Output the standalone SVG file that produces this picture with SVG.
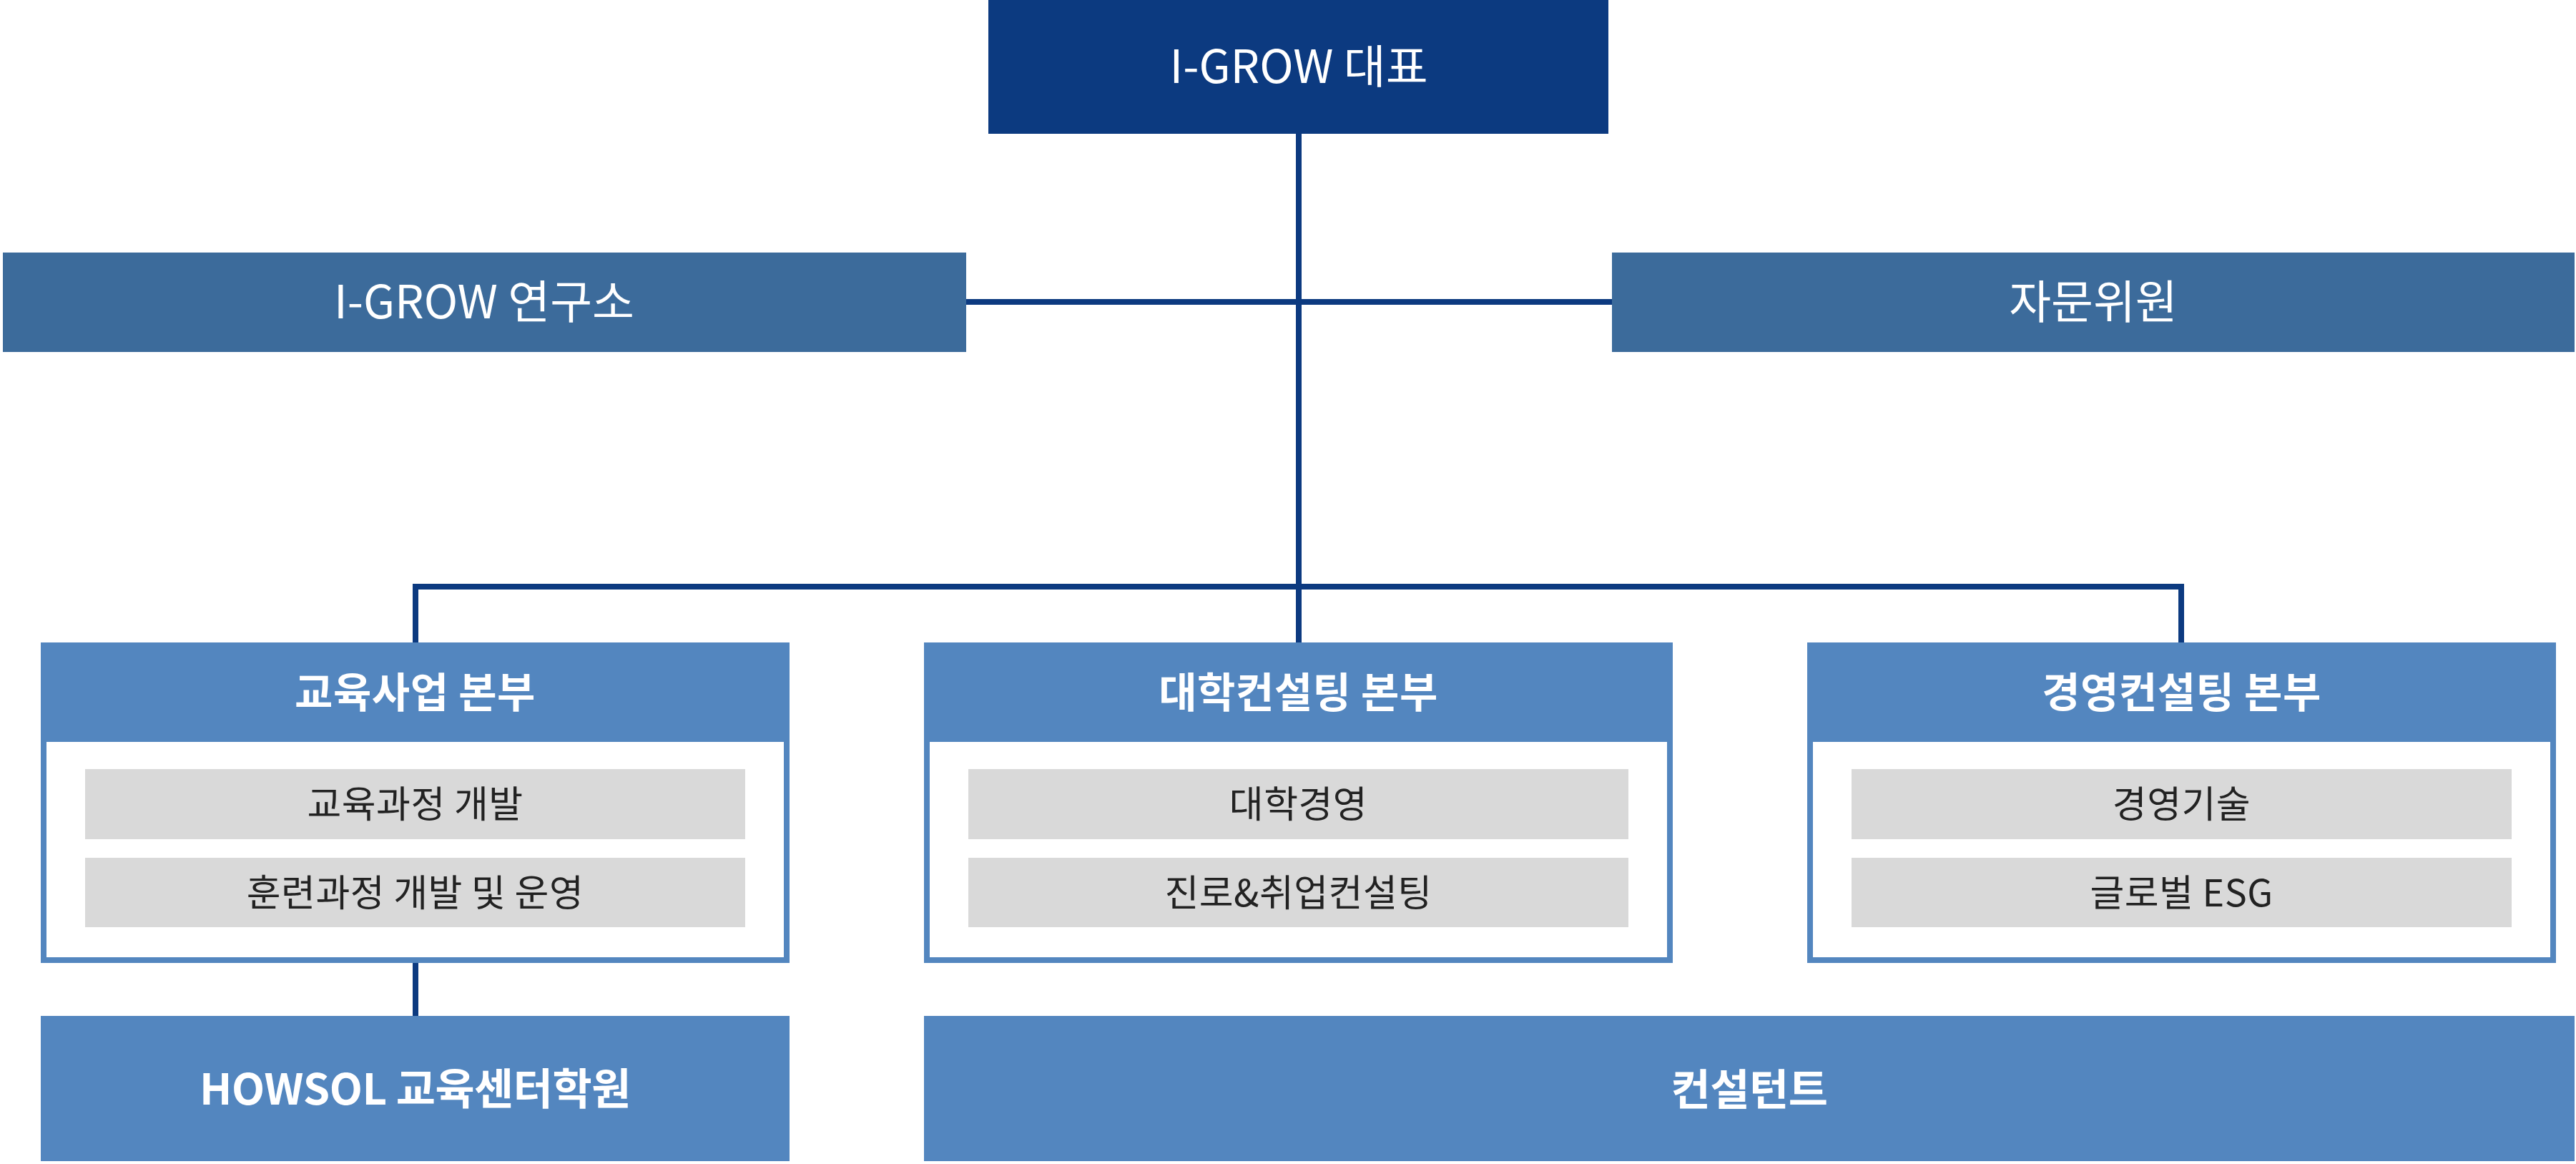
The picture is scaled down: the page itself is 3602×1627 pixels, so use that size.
<svg xmlns="http://www.w3.org/2000/svg" width="3602" height="1627" viewBox="0 0 3602 1627">
<style>
text{font-family:"Noto Sans CJK KR","Noto Sans",sans-serif;text-anchor:middle}
.top{fill:#0C3A80}
.side{fill:#3C6B9B}
.blue{fill:#5386BF}
.frame{fill:#FFFFFF;stroke:#5386BF;stroke-width:8}
.item{fill:#D9D9D9}
.t1{fill:#FFFFFF;font-size:64px;font-weight:400;letter-spacing:0px}
.th{fill:#FFFFFF;font-size:58px;font-weight:700;letter-spacing:0.5px}
.ti{fill:#222222;font-size:52px;font-weight:400;letter-spacing:0.5px}
.tb{fill:#FFFFFF;font-size:60px;font-weight:700;letter-spacing:-0.5px}
.conn{fill:none;stroke:#0C3A80;stroke-width:8}
</style>
<rect width="3602" height="1627" fill="#FFFFFF"/>
<g id="connectors">
<line class="conn" x1="1816" y1="187" x2="1816" y2="898"/>
<line class="conn" x1="1351" y1="422" x2="2254" y2="422"/>
<polyline class="conn" points="581,898 581,820 3050,820 3050,898"/>
<line class="conn" x1="581" y1="1346" x2="581" y2="1420"/>
</g>
<g id="ceo">
<rect class="top" x="1382" y="0" width="867" height="187"/>
<text class="t1" x="1816" y="116" letter-spacing="0.5">I-GROW 대표</text>
</g>
<g id="lab">
<rect class="side" x="4" y="353" width="1347" height="139"/>
<text class="t1" x="677" y="445">I-GROW 연구소</text>
</g>
<g id="advisory">
<rect class="side" x="2254" y="353" width="1346" height="139"/>
<text class="t1" x="2927" y="445" letter-spacing="-9">자문위원</text>
</g>
<g id="edu-division">
<rect class="frame" x="61" y="902" width="1039" height="440"/>
<rect class="blue" x="57" y="898" width="1047" height="139"/>
<text class="th" x="580.5" y="989">교육사업 본부</text>
<rect class="item" x="119" y="1075" width="923" height="98"/>
<text class="ti" x="580.5" y="1143">교육과정 개발</text>
<rect class="item" x="119" y="1199" width="923" height="97"/>
<text class="ti" x="580.5" y="1267">훈련과정 개발 및 운영</text>
</g>
<g id="univ-division">
<rect class="frame" x="1296" y="902" width="1039" height="440"/>
<rect class="blue" x="1292" y="898" width="1047" height="139"/>
<text class="th" x="1815.5" y="989">대학컨설팅 본부</text>
<rect class="item" x="1354" y="1075" width="923" height="98"/>
<text class="ti" x="1815.5" y="1143">대학경영</text>
<rect class="item" x="1354" y="1199" width="923" height="97"/>
<text class="ti" x="1815.5" y="1267">진로&amp;취업컨설팅</text>
</g>
<g id="mgmt-division">
<rect class="frame" x="2531" y="902" width="1039" height="440"/>
<rect class="blue" x="2527" y="898" width="1047" height="139"/>
<text class="th" x="3050.5" y="989">경영컨설팅 본부</text>
<rect class="item" x="2589" y="1075" width="923" height="98"/>
<text class="ti" x="3050.5" y="1143">경영기술</text>
<rect class="item" x="2589" y="1199" width="923" height="97"/>
<text class="ti" x="3050.5" y="1267">글로벌 ESG</text>
</g>
<g id="howsol">
<rect class="blue" x="57" y="1420" width="1047" height="203"/>
<text class="tb" x="580.5" y="1544">HOWSOL 교육센터학원</text>
</g>
<g id="consultants">
<rect class="blue" x="1292" y="1420" width="2308" height="203"/>
<text class="tb" x="2446" y="1545" letter-spacing="-1.5">컨설턴트</text>
</g>
</svg>
